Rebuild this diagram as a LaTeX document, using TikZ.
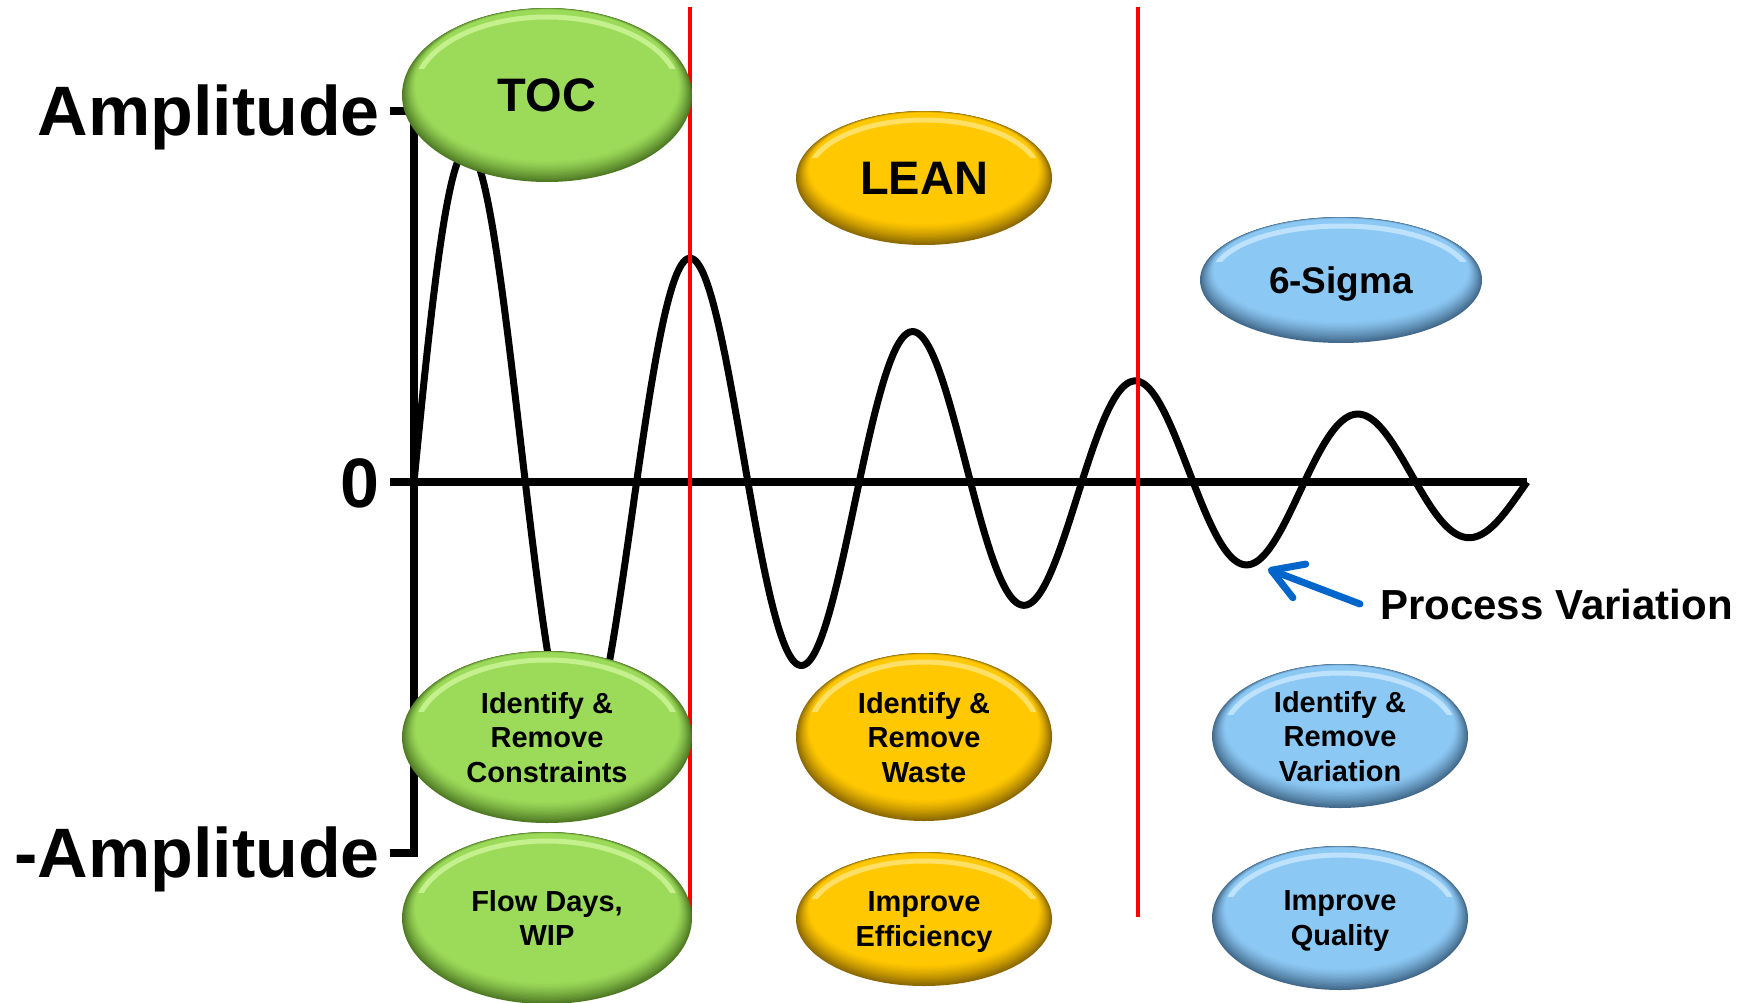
\documentclass[tikz,border=0pt]{standalone}
\usepackage{fontspec}
\setmainfont{Liberation Sans}
\usetikzlibrary{arrows.meta,shapes.geometric}

\definecolor{tocbase}{HTML}{9CDB5A}
\definecolor{tocdark}{HTML}{4F7A24}
\definecolor{toclight}{HTML}{D2F8A0}
\definecolor{leanbase}{HTML}{FFC800}
\definecolor{leandark}{HTML}{8C6800}
\definecolor{leanlight}{HTML}{FFE98A}
\definecolor{sigbase}{HTML}{8CC8F4}
\definecolor{sigdark}{HTML}{42698A}
\definecolor{siglight}{HTML}{D0ECFF}
\definecolor{pvblue}{HTML}{0066CC}
\definecolor{limitred}{HTML}{FF0000}

\tikzset{
  axisline/.style={line width=8pt, line join=miter, line cap=butt, black},
  waveline/.style={line width=7pt, line join=round, line cap=butt, black},
  limitline/.style={line width=4.5pt, limitred},
  pvarrow/.style={line width=7pt, pvblue, line cap=round,
    -{Straight Barb[length=30pt, width=36pt, round]}},
  axislabel/.style={anchor=base east, inner sep=0pt, font=\fontsize{70}{80}\selectfont\bfseries},
  bigtag/.style={font=\fontsize{47}{52}\selectfont\bfseries},
  midtag/.style={font=\fontsize{37}{42}\selectfont\bfseries},
  smalltag/.style={font=\fontsize{29}{34.5}\selectfont\bfseries},
}

% bevelled ellipse: name, x, y, rx, ry, palette, text style, text
\newcommand\bevelnode[8]{%
  \fill[#6dark] (#2,#3) ellipse [x radius=#4, y radius=#5];
  \foreach \i in {1,...,16}{%
    \pgfmathsetmacro\mixval{100*(1-\i/16)^1.3}%
    \fill[#6dark!\mixval!#6base] ({#2},{#3-\i*0.6}) ellipse [x radius={#4-\i*0.85}, y radius={#5-\i*0.72}];
  }
  \begin{scope}
    \clip ({#2-#4},{#3-#5-5}) rectangle ({#2+#4},{#3-0.3*#5});
    \draw[#6light, line width=5pt, opacity=0.75] ({#2},{#3-3}) ellipse [x radius={#4-13}, y radius={#5-12}];
  \end{scope}
  \node[ellipse, minimum width={2*#4}, minimum height={2*#5}, inner sep=0pt,
        align=center, text depth=0pt, #7] (#1) at (#2,#3) {#8};
}

\begin{document}
\begin{tikzpicture}[x=1pt, y=-1pt]
  \useasboundingbox (0,0) rectangle (1744,1003);
  \fill[white] (0,0) rectangle (1744,1003);

  % axes
  \coordinate (ytop) at (414,111);
  \coordinate (ybot) at (414,853);
  \coordinate (xleft) at (390,482);
  \coordinate (xright) at (1527,482);
  \draw[axisline] (390,111) -- (ytop) -- (ybot) -- (390,853);
  \draw[axisline] (xleft) -- (xright);

  % damped oscillation, period 222.6 (1.61725 degrees per unit)
  \draw[waveline] plot[domain=0:1113, samples=700]
    ({414+\x}, {482-367*exp(-0.00178*\x)*sin(1.61725*\x)});

  % phase boundaries
  \coordinate (r1top) at (690,7);
  \coordinate (r1bot) at (690,915);
  \coordinate (r2top) at (1138,7);
  \coordinate (r2bot) at (1138,917);
  \draw[limitline] (r1top) -- (r1bot);
  \draw[limitline] (r2top) -- (r2bot);

  % axis labels
  \node[axislabel] (amp) at (380,136) {Amplitude};
  \node[axislabel] (zero) at (380,507) {0};
  \node[axislabel] (negamp) at (380,877) {-Amplitude};

  % method tags
  \bevelnode{toc}{547}{95}{145}{87}{toc}{bigtag}{TOC}
  \bevelnode{lean}{924}{178}{128}{67}{lean}{bigtag}{LEAN}
  \bevelnode{sigma}{1341}{280}{141}{63}{sig}{midtag}{6-Sigma}

  \bevelnode{constraints}{547}{737}{145}{86}{toc}{smalltag}{Identify \&\\Remove\\Constraints}
  \bevelnode{waste}{924}{737}{128}{84}{lean}{smalltag}{Identify \&\\Remove\\Waste}
  \bevelnode{variation}{1340}{736}{128}{72}{sig}{smalltag}{Identify \&\\Remove\\Variation}

  \bevelnode{flow}{547}{918}{145}{86}{toc}{smalltag}{Flow Days,\\WIP}
  \bevelnode{efficiency}{924}{919}{128}{67}{lean}{smalltag}{Improve\\Efficiency}
  \bevelnode{quality}{1340}{918}{128}{72}{sig}{smalltag}{Improve\\Quality}

  % process variation callout
  \node[anchor=base west, inner sep=0pt, font=\fontsize{42}{48}\selectfont\bfseries] (pv) at (1380,619) {Process Variation};
  \coordinate (pvtail) at (1360,604);
  \coordinate (pvtip) at (1268,569);
  \draw[pvarrow] (pvtail) -- (pvtip);
\end{tikzpicture}
\end{document}
